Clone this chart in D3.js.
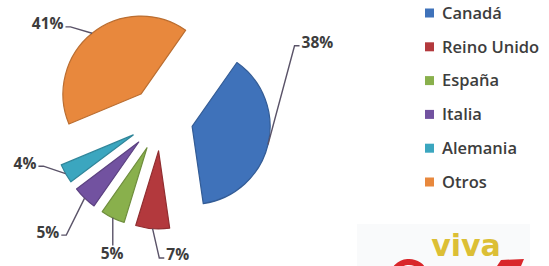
<!DOCTYPE html>
<html>
<head>
<meta charset="utf-8">
<title>Exploded pie</title>
<script src="https://d3js.org/d3.v7.min.js"></script>
<style>
  body { margin: 0; background: #fff; }
  svg { display: block; font-family: "Open Sans", "DejaVu Sans", sans-serif; }
</style>
</head>
<body>
<div id="chart"></div>
<script>
var categories = ["Canadá", "Reino Unido", "España", "Italia", "Alemania", "Otros"];
var values = [38, 7, 5, 5, 4, 41];
var colors = ["#3f72ba", "#b3393d", "#89b04c", "#7252a0", "#3ba6bf", "#e8883d"];
// where each percent label sits: angle (deg, clockwise from 12 o'clock) and distance from pie centre
var labelAngles = [64, 173, 200, 225, 252, 310];
var labelDist = [174, 137, 143, 160, 143, 148];

var width = 549, height = 266;
var cx = 161, cy = 119, radius = 78, explode = 32;

var svg = d3.select("#chart").append("svg")
    .attr("width", width)
    .attr("height", height);

svg.append("rect").attr("width", width).attr("height", height).attr("fill", "#fff");

var rad = Math.PI / 180;
var pie = d3.pie().sort(null)
    .startAngle(35 * rad)
    .endAngle(395 * rad);
var arc = d3.arc().innerRadius(0).outerRadius(radius);
var arcs = pie(values);

function polar(a, r) { return [Math.sin(a) * r, -Math.cos(a) * r]; }

arcs.forEach(function(d, i) {
    d.mid = (d.startAngle + d.endAngle) / 2;
    var o = polar(d.mid, explode);
    d.ox = cx + o[0];
    d.oy = cy + o[1];
});

svg.selectAll("path.slice")
    .data(arcs)
    .enter().append("path")
    .attr("class", "slice")
    .attr("transform", function(d) { return "translate(" + d.ox + "," + d.oy + ")"; })
    .attr("d", arc)
    .attr("fill", function(d, i) { return colors[i]; })
    .attr("stroke", function(d, i) { return d3.color(colors[i]).darker(0.6); })
    .attr("stroke-width", 1.2)
    .attr("stroke-linejoin", "round");

// percent labels + leader lines
var labels = svg.append("g");
arcs.forEach(function(d, i) {
    var lp = polar(labelAngles[i] * rad, labelDist[i]);
    var lx = cx + lp[0], ly = cy + lp[1];
    var t = labels.append("text")
        .attr("x", lx).attr("y", ly)
        .attr("dy", "0.35em")
        .attr("text-anchor", "middle")
        .attr("fill", "#3d3d3d")
        .style("font-size", "15.5px")
        .style("font-weight", 700)
        .text(values[i] + "%");
    var w = t.node().getComputedTextLength();
    var s = polar(d.mid, radius);
    var sx = d.ox + s[0], sy = d.oy + s[1];
    var pts;
    if (sx > lx - w / 2 && sx < lx + w / 2) {
        pts = [[sx, sy], [sx, ly + (sy < ly ? -8 : 8)]];
    } else if (sx > lx) {
        var ex = lx + w / 2 + 2;
        pts = [[sx, sy], [ex + 5, ly + 3], [ex, ly + 3]];
    } else {
        var ex2 = lx - w / 2 - 2;
        pts = [[sx, sy], [ex2 - 5, ly + 3], [ex2, ly + 3]];
    }
    labels.insert("path", "text")
        .attr("d", d3.line()(pts))
        .attr("fill", "none")
        .attr("stroke", "#5a5368")
        .attr("stroke-width", 1.4);
});

// legend
var legend = svg.append("g").attr("transform", "translate(425,13)");
var rows = legend.selectAll("g")
    .data(categories)
    .enter().append("g")
    .attr("transform", function(d, i) { return "translate(0," + (i * 33.8) + ")"; });
rows.append("rect")
    .attr("x", 0).attr("y", -4.5)
    .attr("width", 9).attr("height", 9)
    .attr("fill", function(d, i) { return colors[i]; });
rows.append("text")
    .attr("x", 17).attr("y", 0)
    .attr("dy", "0.35em")
    .attr("fill", "#3d3d3d")
    .style("font-size", "16.5px")
    .style("font-weight", 600)
    .text(function(d) { return d; });

// logo in the corner
var logo = svg.append("g");
logo.append("rect")
    .attr("x", 357).attr("y", 224).attr("width", 173).attr("height", 42)
    .attr("fill", "#f9fafb");
logo.append("text")
    .attr("x", 466).attr("y", 256)
    .attr("text-anchor", "middle")
    .attr("fill", "#dcbf35")
    .style("font-family", "DejaVu Sans, sans-serif")
    .style("font-size", "30px")
    .style("font-weight", 700)
    .text("viva");
logo.append("path")
    .attr("transform", "translate(409,279)")
    .attr("d", d3.arc().innerRadius(14).outerRadius(20).startAngle(-85 * rad).endAngle(75 * rad)())
    .attr("fill", "#d9262a");
logo.append("path")
    .attr("d", "M497,266 L501,260 L524,259 L521,266 Z")
    .attr("fill", "#d9262a");
</script>
</body>
</html>
